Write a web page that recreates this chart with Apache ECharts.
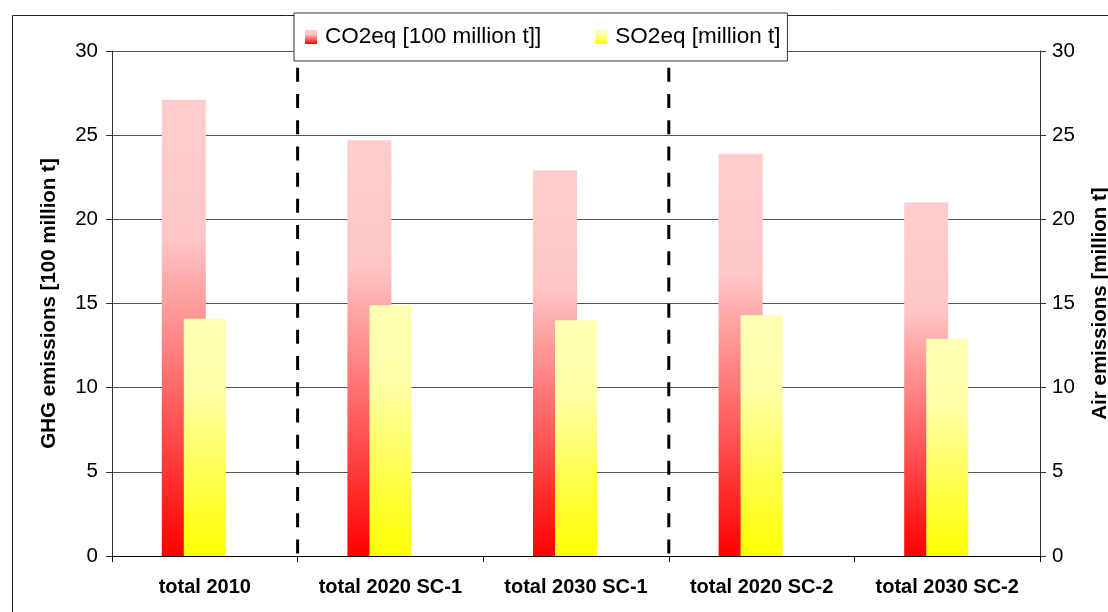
<!DOCTYPE html>
<html>
<head>
<meta charset="utf-8">
<script src="https://cdn.jsdelivr.net/npm/echarts@6/dist/echarts.min.js"></script>
<style>
  html, body { margin: 0; padding: 0; background: #fff; }
  #chart { width: 1108px; height: 612px; }
</style>
</head>
<body>
<div id="chart"></div>
<script>
// ---- data ----
const categories = ['total 2010', 'total 2020 SC-1', 'total 2030 SC-1', 'total 2020 SC-2', 'total 2030 SC-2'];
const co2Name = 'CO2eq [100 million t]]';
const so2Name = 'SO2eq [million t]';
const co2Values = [27.1, 24.7, 22.9, 23.9, 21.0];
const so2Values = [14.1, 14.9, 14.0, 14.3, 12.9];
const leftAxisName = 'GHG emissions [100 million t]';
const rightAxisName = 'Air emissions [million t]';
const axisMin = 0, axisMax = 30, axisStep = 5;
// scenario separators sit between categories (index positions)
const dividerPositions = [0.5, 2.5];
const dividerTopValue = 29;

const FONT = '"Liberation Sans", Arial, sans-serif';

function vgrad(top, mid, bottom) {
  return new echarts.graphic.LinearGradient(0, 0, 0, 1, [
    { offset: 0, color: top },
    { offset: 0.3, color: mid },
    { offset: 1, color: bottom }
  ]);
}

const dividerSeries = dividerPositions.map(function (p) {
  return {
    type: 'line',
    xAxisIndex: 1,
    yAxisIndex: 0,
    data: [[p, dividerTopValue], [p, axisMin]],
    symbol: 'none',
    silent: true,
    lineStyle: { color: '#000', width: 3, type: [14, 12.2] },
    z: 3
  };
});

const chart = echarts.init(document.getElementById('chart'), null, { renderer: 'canvas' });
chart.setOption({
  animation: false,
  textStyle: { fontFamily: FONT },
  graphic: [{
    type: 'rect',
    left: 10, top: 13,
    shape: { width: 1200, height: 700 },
    style: { fill: 'none', stroke: '#222', lineWidth: 1 },
    silent: true,
    z: 0
  }],
  grid: { left: 112, right: 68, top: 51, bottom: 56, containLabel: false, outerBoundsMode: 'none' },
  legend: {
    data: [co2Name, so2Name],
    left: 294, top: 13,
    orient: 'horizontal',
    backgroundColor: '#fff',
    borderColor: '#333',
    borderWidth: 1,
    borderRadius: 0,
    padding: [11, 7, 11, 11],
    itemGap: 54,
    itemWidth: 12,
    itemHeight: 14,
    icon: 'rect',
    textStyle: { fontFamily: FONT, fontSize: 22.5, color: '#000', padding: [0, 0, 0, 3], lineHeight: 26 },
    z: 10
  },
  xAxis: [{
    type: 'category',
    data: categories,
    boundaryGap: true,
    axisLine: { show: true, onZero: false, lineStyle: { color: '#000', width: 1 } },
    axisTick: { show: true, length: 6, lineStyle: { color: '#000' } },
    axisLabel: { fontFamily: FONT, fontSize: 20, fontWeight: 'bold', color: '#000', margin: 21, interval: 0 },
    splitLine: { show: false }
  }, {
    type: 'value',
    min: -0.5, max: 4.5,
    show: false,
    axisLine: { show: false, onZero: false },
    splitLine: { show: false }
  }],
  yAxis: [{
    type: 'value',
    min: axisMin, max: axisMax, interval: axisStep,
    position: 'left',
    name: leftAxisName,
    nameLocation: 'middle',
    nameGap: 52,
    nameTextStyle: { fontFamily: FONT, fontSize: 20.5, fontWeight: 'bold', color: '#000' },
    axisLine: { show: true, onZero: false, lineStyle: { color: '#333', width: 1 } },
    axisTick: { show: true, length: 6, lineStyle: { color: '#333' } },
    axisLabel: { fontFamily: FONT, fontSize: 20.5, color: '#000', margin: 14 },
    splitLine: { show: true, lineStyle: { color: '#555', width: 1 } }
  }, {
    type: 'value',
    min: axisMin, max: axisMax, interval: axisStep,
    position: 'right',
    name: rightAxisName,
    nameLocation: 'middle',
    nameGap: 50,
    nameTextStyle: { fontFamily: FONT, fontSize: 20.5, fontWeight: 'bold', color: '#000' },
    axisLine: { show: true, onZero: false, lineStyle: { color: '#333', width: 1 } },
    axisTick: { show: true, length: 6, lineStyle: { color: '#333' } },
    axisLabel: { fontFamily: FONT, fontSize: 20.5, color: '#000', margin: 12 },
    splitLine: { show: false }
  }],
  series: [{
    name: co2Name,
    type: 'bar',
    xAxisIndex: 0, yAxisIndex: 0,
    data: co2Values,
    barWidth: 44,
    barGap: '-50%',
    itemStyle: { color: vgrad('#FFCDCD', '#FFC6C6', '#FF0000') },
    z: 2
  }, {
    name: so2Name,
    type: 'bar',
    xAxisIndex: 0, yAxisIndex: 1,
    data: so2Values,
    barWidth: 42,
    barGap: '-50%',
    itemStyle: { color: vgrad('#FFFFB2', '#FFFFAA', '#FFFF00') },
    z: 2
  }, {
    name: 'spacer',
    type: 'bar',
    xAxisIndex: 0, yAxisIndex: 0,
    data: categories.map(function () { return '-'; }),
    barWidth: 43,
    barGap: '-50%',
    silent: true,
    itemStyle: { color: 'transparent' }
  }].concat(dividerSeries)
});
</script>
</body>
</html>
